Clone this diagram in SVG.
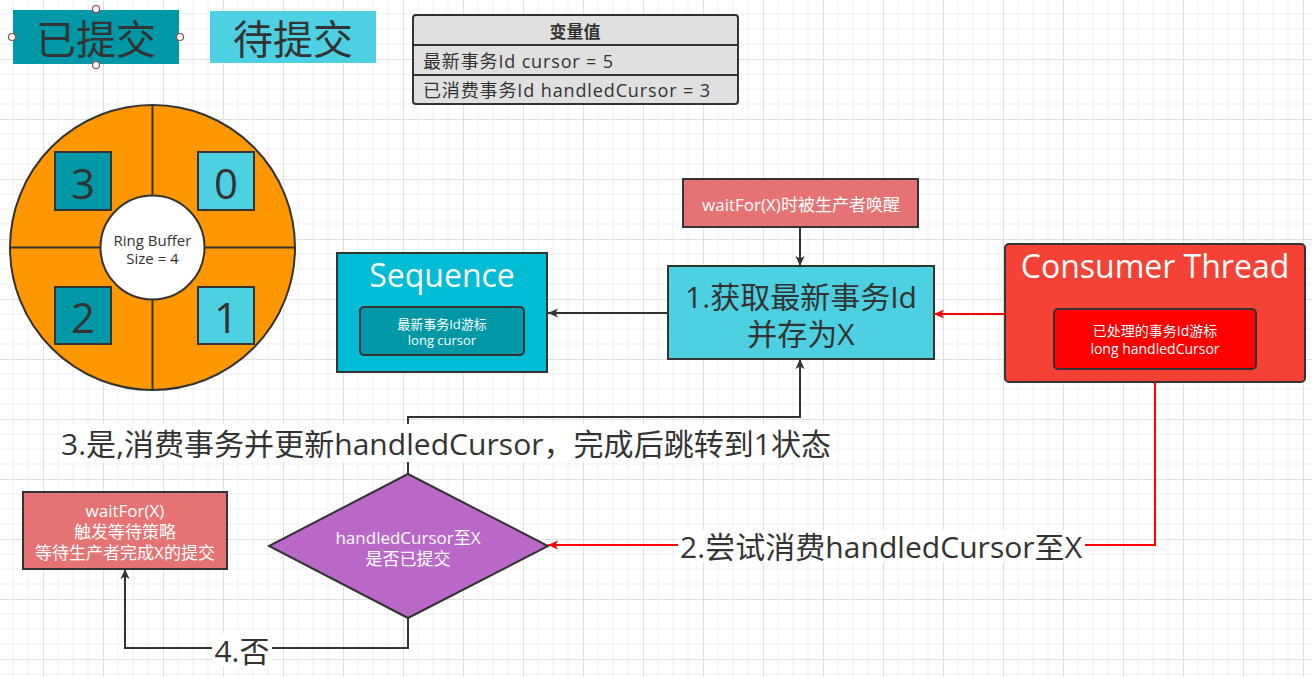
<svg xmlns="http://www.w3.org/2000/svg" width="1312" height="677" viewBox="0 0 1312 677">
<defs>
<pattern id="grid" x="43" y="59" width="60" height="60" patternUnits="userSpaceOnUse">
<path d="M15,0 V60 M30,0 V60 M45,0 V60 M0,15 H60 M0,30 H60 M0,45 H60" stroke="#efefef" stroke-width="1" fill="none"/>
<path d="M0.5,0 V60 M0,0.5 H60" stroke="#e0e0e0" stroke-width="1" fill="none"/>
</pattern>
<marker id="arrDark" viewBox="0 0 10 10" refX="10" refY="5" markerWidth="10" markerHeight="10" markerUnits="userSpaceOnUse" orient="auto">
<path d="M0,0.5 L10,5 L0,9.5 L2.5,5 Z" fill="#333"/>
</marker>
<marker id="arrRed" viewBox="0 0 10 10" refX="10" refY="5" markerWidth="10" markerHeight="10" markerUnits="userSpaceOnUse" orient="auto">
<path d="M0,0.5 L10,5 L0,9.5 L2.5,5 Z" fill="#ff0000"/>
</marker>
</defs>
<style>
text{font-family:"Open Sans","Noto Sans CJK SC",sans-serif;}
.box{stroke:#333;stroke-width:2;}
.dark{fill:#333;}
.white{fill:#fff;}
.c{text-anchor:middle;dominant-baseline:central;}
.l{dominant-baseline:central;}
.edge{fill:none;stroke:#333;stroke-width:2;}
.red{fill:none;stroke:#ff0000;stroke-width:2;}
.handle{fill:#fff;stroke:#9c4a4a;stroke-width:1.2;}
</style>
<rect x="0" y="0" width="1312" height="677" fill="#fff"/>
<rect x="0" y="0" width="1312" height="677" fill="url(#grid)"/>

<g id="legend-committed">
<rect x="13" y="10" width="166" height="54" fill="#0097a7"/>
<text x="96" y="38" class="c dark" font-size="40">已提交</text>
<circle class="handle" cx="12" cy="37" r="3.5"/>
<circle class="handle" cx="180" cy="37" r="3.5"/>
<circle class="handle" cx="96" cy="9" r="3.5"/>
<circle class="handle" cx="96" cy="65" r="3.5"/>
</g>
<g id="legend-pending">
<rect x="210" y="11" width="166" height="52" fill="#4dd0e1"/>
<text x="293" y="38" class="c dark" font-size="40">待提交</text>
</g>

<g id="variables">
<rect x="413" y="15" width="325" height="89" rx="3" fill="#e0e0e0" class="box"/>
<path d="M413,45 H738 M413,75 H738" stroke="#333" stroke-width="2"/>
<text x="575" y="31" class="c dark" font-size="17" font-weight="bold">变量值</text>
<text x="423" y="61" class="l dark" font-size="18" textLength="190">最新事务Id cursor = 5</text>
<text x="423" y="90" class="l dark" font-size="18" textLength="287">已消费事务Id handledCursor = 3</text>
</g>

<g id="ring-buffer">
<circle cx="152.5" cy="247.5" r="142.5" fill="#ff9800" class="box"/>
<path d="M152.5,105 V390 M10,247.5 H295" stroke="#333" stroke-width="2"/>
<circle cx="152.5" cy="247.5" r="52" fill="#fff" class="box"/>
<text x="152.5" y="240" class="c dark" font-size="15">Ring Buffer</text>
<text x="152.5" y="258" class="c dark" font-size="15">Size = 4</text>
<rect x="55" y="152" width="56" height="58" fill="#0097a7" class="box"/>
<text x="83" y="182" class="c dark" font-size="42">3</text>
<rect x="198" y="152" width="56" height="58" fill="#4dd0e1" class="box"/>
<text x="226" y="182" class="c dark" font-size="42">0</text>
<rect x="55" y="287" width="56" height="57" fill="#0097a7" class="box"/>
<text x="83" y="316" class="c dark" font-size="42">2</text>
<rect x="198" y="287" width="56" height="57" fill="#4dd0e1" class="box"/>
<text x="226" y="316" class="c dark" font-size="42">1</text>
</g>

<g id="sequence">
<rect x="337" y="253" width="210" height="119" fill="#00bcd4" class="box"/>
<text x="442" y="274" class="c white" font-size="32">Sequence</text>
<rect x="360" y="307" width="164" height="48" rx="4" fill="#0097a7" class="box"/>
<text x="442" y="324" class="c white" font-size="13">最新事务Id游标</text>
<text x="442" y="340" class="c white" font-size="13">long cursor</text>
</g>

<g id="wakeup">
<rect x="683" y="179" width="235" height="48" fill="#e57373" class="box"/>
<text x="801" y="204" class="c white" font-size="17">waitFor(X)时被生产者唤醒</text>
</g>

<g id="step1">
<rect x="668" y="266" width="266" height="93" fill="#4dd0e1" class="box"/>
<text x="801" y="296" class="c dark" font-size="30">1.获取最新事务Id</text>
<text x="801" y="333" class="c dark" font-size="30">并存为X</text>
</g>

<g id="consumer">
<rect x="1005" y="244" width="300" height="138" rx="4" fill="#f44336" class="box"/>
<text x="1155" y="265" class="c white" font-size="32">Consumer Thread</text>
<rect x="1054" y="309" width="202" height="60" rx="4" fill="#ff0000" class="box"/>
<text x="1155" y="330" class="c white" font-size="14">已处理的事务Id游标</text>
<text x="1155" y="348" class="c white" font-size="14">long handledCursor</text>
</g>

<g id="decision">
<polygon points="408,474 548,546 408,618 269,546" fill="#ba68c8" class="box"/>
<text x="408" y="537" class="c white" font-size="17">handledCursor至X</text>
<text x="408" y="558" class="c white" font-size="17">是否已提交</text>
</g>

<g id="wait-strategy">
<rect x="23" y="492" width="204" height="77" fill="#e57373" class="box"/>
<text x="125" y="510" class="c white" font-size="17">waitFor(X)</text>
<text x="125" y="531" class="c white" font-size="17">触发等待策略</text>
<text x="125" y="552" class="c white" font-size="17">等待生产者完成X的提交</text>
</g>

<g id="connectors">
<path class="edge" d="M800,227 V266" marker-end="url(#arrDark)"/>
<path class="edge" d="M668,313 H548" marker-end="url(#arrDark)"/>
<path class="red" d="M1005,314 H934" marker-end="url(#arrRed)"/>
<path class="red" d="M1155,382 V545 H548" marker-end="url(#arrRed)"/>
<path class="edge" d="M408,474 V417 H800 V359" marker-end="url(#arrDark)"/>
<path class="edge" d="M408,618 V648 H125 V569" marker-end="url(#arrDark)"/>
<rect x="60" y="424" width="774" height="38" fill="#fff"/>
<text x="446" y="443" class="c dark" font-size="30" textLength="770">3.是,消费事务并更新handledCursor，完成后跳转到1状态</text>
<rect x="678" y="530" width="407" height="32" fill="#fff"/>
<text x="881" y="546" class="c dark" font-size="30" textLength="402">2.尝试消费handledCursor至X</text>
<rect x="212" y="633" width="60" height="34" fill="#fff"/>
<text x="242" y="650" class="c dark" font-size="30">4.否</text>
</g>
</svg>
